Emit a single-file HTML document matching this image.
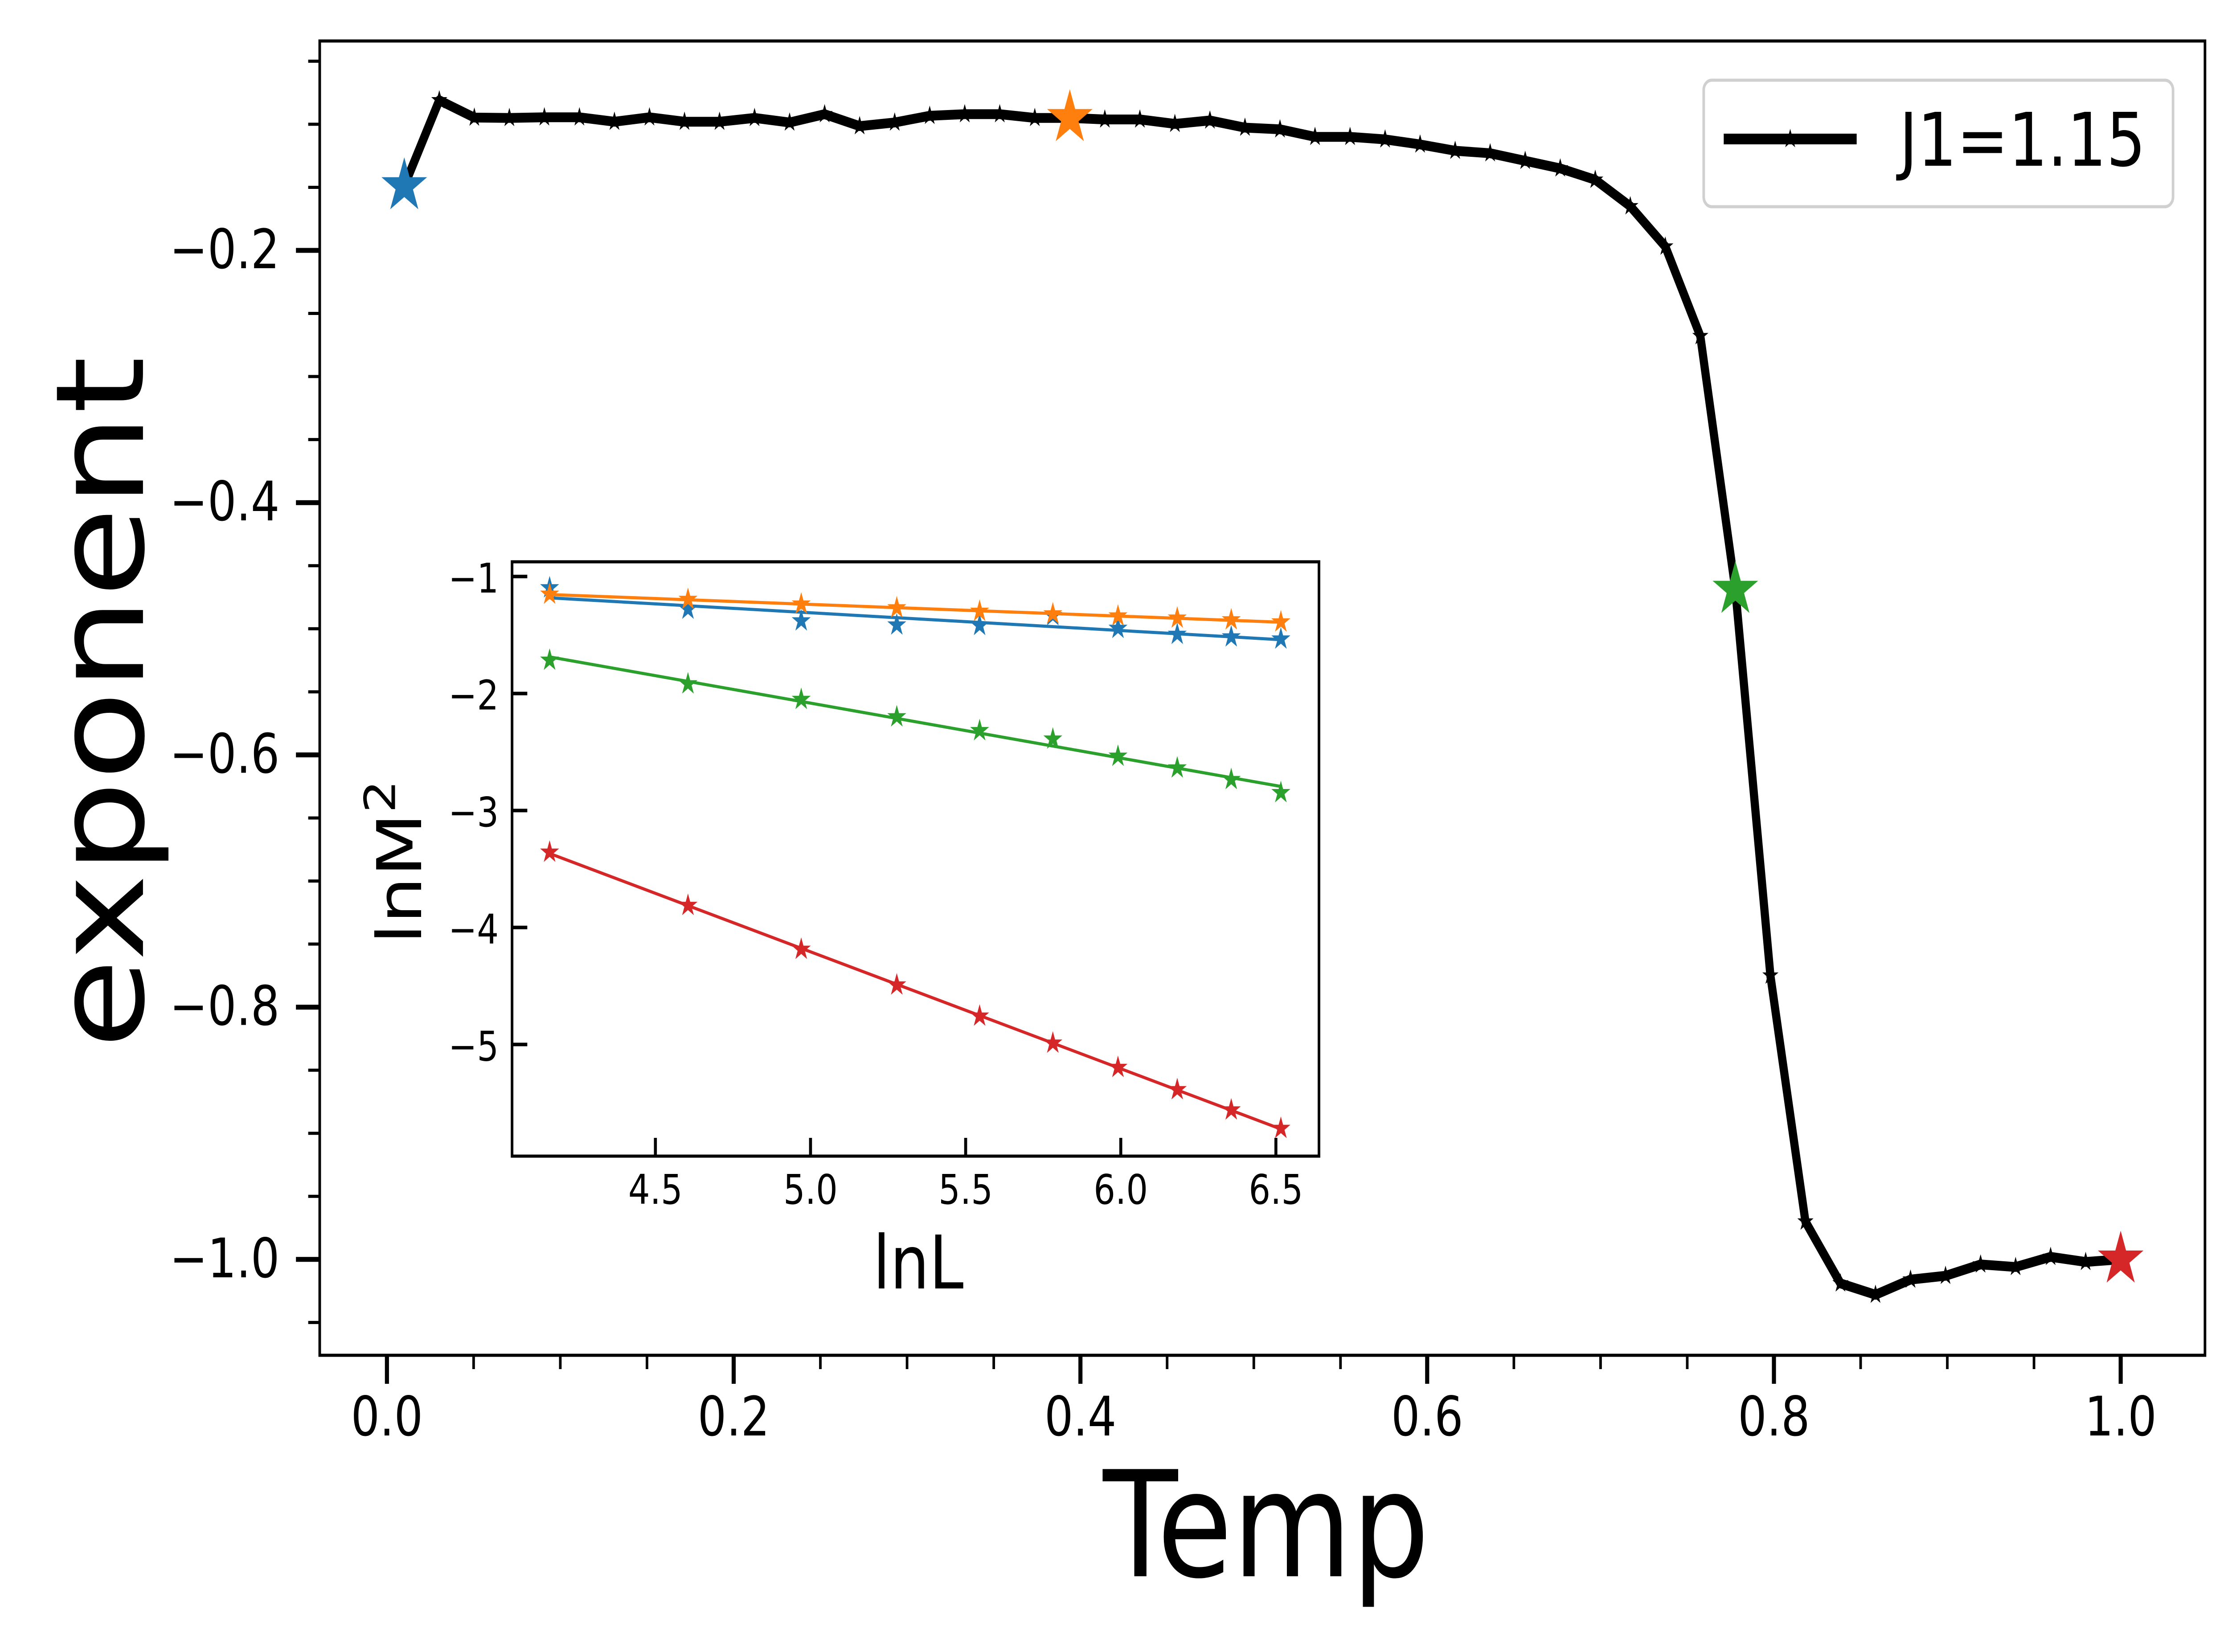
<!DOCTYPE html>
<html><head><meta charset="utf-8"><style>
html,body{margin:0;padding:0;background:#fff;width:100%;height:100%;overflow:hidden}
svg{display:block;width:100vw;height:100vh;font-family:"DejaVu Sans","Liberation Sans",sans-serif}
</style></head><body>
<svg id="chart" xmlns="http://www.w3.org/2000/svg" viewBox="0 0 6000 3708" preserveAspectRatio="none">
<rect width="6000" height="3708" fill="#fff"/>
<g id="main"></g>
<g id="inset"></g>
<text x="3410" y="3538" font-size="330" text-anchor="middle">Temp</text>
<text transform="translate(385,1577) rotate(-90)" font-size="330" text-anchor="middle">exponent</text>
<g>
<rect x="4588" y="180" width="1264" height="284" rx="22" fill="#fff" fill-opacity="0.8" stroke="#d0d0d0" stroke-width="7"/>
<line x1="4642" y1="312" x2="5000" y2="312" stroke="#000" stroke-width="24"/>
<g id="legmark"></g>
<text x="5115" y="372" font-size="166">J1=1.15</text>
</g>
</svg>
<script>
// main chart data
const temps = [];
const N_T = 50;
for (let i = 0; i < N_T; i++) temps.push(0.01 + i * (0.99 / 49));
const exponentVals = [-0.149,-0.081,-0.0947,-0.095,-0.0945,-0.0945,-0.098,-0.0945,-0.098,-0.098,-0.095,-0.0986,-0.092,-0.1015,-0.0986,-0.0933,-0.092,-0.092,-0.095,-0.095,-0.0962,-0.0962,-0.0997,-0.097,-0.1027,-0.104,-0.110,-0.110,-0.112,-0.116,-0.121,-0.123,-0.129,-0.135,-0.144,-0.165,-0.197,-0.268,-0.469,-0.775,-0.970,-1.019,-1.028,-1.016,-1.013,-1.004,-1.006,-0.998,-1.002,-1.0];
const highlightIdx = [0, 19, 38, 49];
const highlightColors = ['#1f77b4','#ff7f0e','#2ca02c','#d62728'];
const xTickVals = [0.0,0.2,0.4,0.6,0.8,1.0];
const xTickLabels = ['0.0','0.2','0.4','0.6','0.8','1.0'];
const yTickVals = [-0.2,-0.4,-0.6,-0.8,-1.0];
const yTickLabels = ['\u22120.2','\u22120.4','\u22120.6','\u22120.8','\u22121.0'];

// inset data
const lnL = [4.159,4.605,4.970,5.278,5.545,5.781,5.991,6.182,6.356,6.516];
const seriesBlue = [-1.097,-1.28,-1.38,-1.415,-1.419,-1.335,-1.444,-1.495,-1.517,-1.535];
const seriesOrange = [-1.152,-1.196,-1.236,-1.269,-1.298,-1.32,-1.338,-1.356,-1.371,-1.389];
const seriesGreen = [-1.716,-1.918,-2.051,-2.2,-2.318,-2.39,-2.537,-2.637,-2.736,-2.848];
const seriesRed = [-3.357,-3.812,-4.187,-4.492,-4.758,-4.989,-5.197,-5.387,-5.56,-5.718];
const insetXTicks = [4.5,5.0,5.5,6.0,6.5];
const insetXLabels = ['4.5','5.0','5.5','6.0','6.5'];
const insetYTicks = [-1,-2,-3,-4,-5];
const insetYLabels = ['\u22121','\u22122','\u22123','\u22124','\u22125'];

const NS = 'http://www.w3.org/2000/svg';
function mk(tag, attrs, parent){ const e = document.createElementNS(NS, tag); for (const k in attrs) e.setAttribute(k, attrs[k]); parent.appendChild(e); return e; }
function starPath(cx, cy, r){
  const ri = r * 0.381966; let d = '';
  for (let k = 0; k < 10; k++){
    const a = -Math.PI/2 + k*Math.PI/5; const rr = k%2===0 ? r : ri;
    d += (k===0?'M':'L') + (cx+rr*Math.cos(a)).toFixed(1) + ',' + (cy+rr*Math.sin(a)).toFixed(1);
  }
  return d + 'Z';
}

// main axes
const M = {l:861, r:5938, t:92, b:3042};
const sx = v => 1042 + v * 4669;
const sy = v => 562 - (v + 0.2) * 2831;
const main = document.getElementById('main');
for (let k = 1; k <= 21; k++){
  if (k % 4 === 0) continue;
  const v = -0.05 * k;
  const t = mk('line', {x1:M.l, x2:M.l-31, y1:sy(v), y2:sy(v), stroke:'#000','stroke-width':7}, main);
  
  
}
for (let k = 0; k <= 20; k++){
  if (k % 4 === 0) continue;
  const v = 0.05 * k;
  const t = mk('line', {x1:sx(v), x2:sx(v), y1:M.b, y2:M.b+31, stroke:'#000','stroke-width':7}, main);
  
  
}
xTickVals.forEach((v,i)=>{
  const t = mk('line', {x1:sx(v), x2:sx(v), y1:M.b, y2:M.b+64, stroke:'#000','stroke-width':11}, main);
  
  
  const l = mk('text', {x:sx(v), y:3222, 'font-size':122, 'text-anchor':'middle'}, main);
  l.textContent = xTickLabels[i];
  
  
});
yTickVals.forEach((v,i)=>{
  const t = mk('line', {x1:M.l, x2:M.l-64, y1:sy(v), y2:sy(v), stroke:'#000','stroke-width':11}, main);
  
  
  const l = mk('text', {x:753, y:sy(v)+40, 'font-size':122, 'text-anchor':'end'}, main);
  l.textContent = yTickLabels[i];
  
  
});
const frame = mk('rect', {x:M.l, y:M.t, width:M.r-M.l, height:M.b-M.t, fill:'none', stroke:'#000','stroke-width':7}, main);


const pts = temps.map((t,i)=> sx(t).toFixed(1)+','+sy(exponentVals[i]).toFixed(1)).join(' ');
const line = mk('polyline', {points:pts, fill:'none', stroke:'#000','stroke-width':22,'stroke-linejoin':'round'}, main);


temps.forEach((t,i)=>{
  const s = mk('path', {d:starPath(sx(t), sy(exponentVals[i]), 18), fill:'#000', stroke:'#000','stroke-width':3}, main);
  
  
});
highlightIdx.forEach((idx,j)=>{
  const s = mk('path', {d:starPath(sx(temps[idx]), sy(exponentVals[idx]), 58), fill:highlightColors[j], stroke:highlightColors[j],'stroke-width':4}, main);
  
  
});
const lm = mk('path', {d:starPath(4821, 312, 18), fill:'#000', stroke:'#000','stroke-width':3}, document.getElementById('legmark'));



// inset axes
const I = {l:1379, r:3552, t:1261, b:2595};
const ix = v => 1765 + (v - 4.5) * 835.5;
const iy = v => 1294 - (v + 1) * 262.6;
const inset = document.getElementById('inset');
mk('rect', {x:I.l, y:I.t, width:I.r-I.l, height:I.b-I.t, fill:'#fff', stroke:'none'}, inset);
insetXTicks.forEach((v,i)=>{
  const t = mk('line', {x1:ix(v), x2:ix(v), y1:I.b, y2:I.b-41, stroke:'#000','stroke-width':8}, inset);
  
  
  const l = mk('text', {x:ix(v), y:2702, 'font-size':92, 'text-anchor':'middle'}, inset);
  l.textContent = insetXLabels[i];
  
  
});
insetYTicks.forEach((v,i)=>{
  const t = mk('line', {x1:I.l, x2:I.l+41, y1:iy(v), y2:iy(v), stroke:'#000','stroke-width':8}, inset);
  
  
  const l = mk('text', {x:1343, y:iy(v)+36, 'font-size':92, 'text-anchor':'end'}, inset);
  l.textContent = insetYLabels[i];
  
  
});
const allSeries = [seriesBlue, seriesOrange, seriesGreen, seriesRed];
const seriesNames = ['blue','orange','green','red'];
allSeries.forEach((ys,si)=>{
  const c = highlightColors[si];
  const n = lnL.length; let mx=0,my=0; for(let k=0;k<n;k++){mx+=lnL[k];my+=ys[k];} mx/=n; my/=n;
  let sxy=0,sxx=0; for(let k=0;k<n;k++){sxy+=(lnL[k]-mx)*(ys[k]-my); sxx+=(lnL[k]-mx)**2;}
  const slope=sxy/sxx, b=my-slope*mx;
  const x0=lnL[0], x1=lnL[n-1];
  const f = mk('line', {x1:ix(x0), y1:iy(slope*x0+b), x2:ix(x1), y2:iy(slope*x1+b), stroke:c,'stroke-width':7}, inset);
  
  
  lnL.forEach((x,k)=>{
    const s = mk('path', {d:starPath(ix(x), iy(ys[k]), 22), fill:c, stroke:c,'stroke-width':3}, inset);
    
    
  });
});
const iframe = mk('rect', {x:I.l, y:I.t, width:I.r-I.l, height:I.b-I.t, fill:'none', stroke:'#000','stroke-width':7}, inset);


const xl = mk('text', {x:2473, y:2892, 'font-size':166, 'text-anchor':'middle'}, inset);
xl.textContent = 'lnL';


const yl = mk('text', {transform:'translate(1134,1935) rotate(-90)', 'font-size':166, 'text-anchor':'middle'}, inset);
yl.textContent = 'lnM';
const sup = mk('tspan', {'font-size':116, dy:-70}, yl);
sup.textContent = '2';


</script>
</body></html>
